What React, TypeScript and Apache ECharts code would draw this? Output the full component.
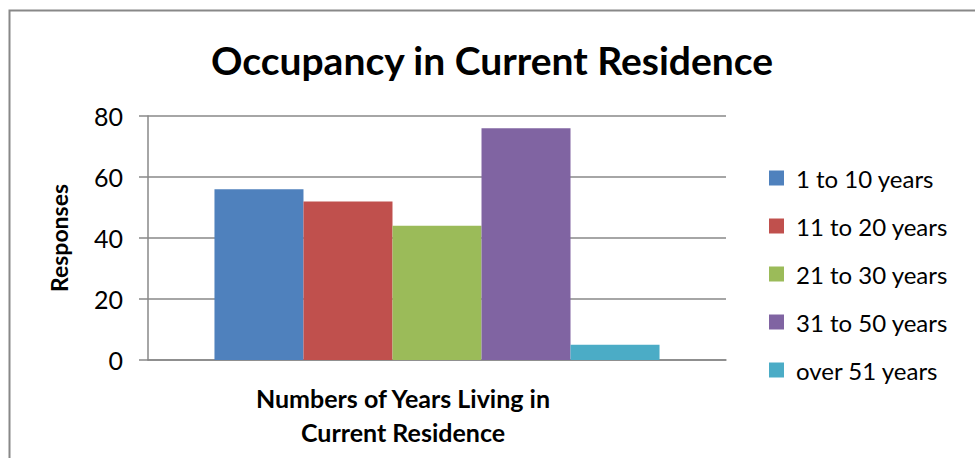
import React, { useEffect, useRef } from "react";
import * as echarts from "echarts";

const categories = ["Numbers of Years Living in Current Residence"];
const seriesNames = ["1 to 10 years", "11 to 20 years", "21 to 30 years", "31 to 50 years", "over 51 years"];
const seriesValues = [56, 52, 44, 76, 5];
const seriesColors = ["#4F81BD", "#C0504D", "#9BBB59", "#8064A2", "#4BACC6"];
const yTicks = { min: 0, max: 80, interval: 20 };

const FONT = "Lato, 'Liberation Sans', sans-serif";

export default function App() {
  const ref = useRef<HTMLDivElement>(null);
  useEffect(() => {
    if (!ref.current) return;
    const chart = echarts.init(ref.current, null, { renderer: "svg" });
    chart.setOption({
      animation: false,
      backgroundColor: "#fff",
      textStyle: { fontFamily: FONT },
      grid: { left: 148, right: 249, top: 116, bottom: 98 },
      legend: {
        orient: "vertical",
        left: 764,
        top: 161,
        itemWidth: 15,
        itemHeight: 15,
        itemGap: 24,
        icon: "rect",
        data: seriesNames,
        textStyle: { fontFamily: FONT, fontSize: 24, color: "#000", lineHeight: 24, padding: [0, 0, 0, 7] },
      },
      xAxis: {
        type: "category",
        data: categories,
        axisLine: { lineStyle: { color: "#888", width: 1.5 } },
        axisTick: { show: false },
        axisLabel: { show: false },
      },
      yAxis: {
        type: "value",
        min: yTicks.min,
        max: yTicks.max,
        interval: yTicks.interval,
        name: "Responses",
        nameLocation: "middle",
        nameGap: 78,
        nameTextStyle: { fontFamily: FONT, fontSize: 23, fontWeight: "bold", color: "#000" },
        axisLine: { show: true, lineStyle: { color: "#888", width: 1.5 } },
        axisTick: { show: true, length: 9, inside: false, lineStyle: { color: "#888", width: 1.5 } },
        axisLabel: { margin: 25, fontFamily: FONT, fontSize: 25, color: "#000" },
        splitLine: { lineStyle: { color: "#888", width: 1.5 } },
      },
      series: seriesNames.map((name, i) => ({
        name,
        type: "bar",
        data: [seriesValues[i]],
        itemStyle: { color: seriesColors[i] },
        barGap: "0%",
        barCategoryGap: "23%",
      })),
      graphic: [
        {
          type: "rect",
          shape: { x: 9.5, y: 10.5, width: 1000, height: 500 },
          style: { fill: "none", stroke: "#888", lineWidth: 2 },
          silent: true,
        },
        {
          type: "text",
          x: 492,
          y: 60,
          style: {
            text: "Occupancy in Current Residence",
            textAlign: "center",
            textVerticalAlign: "middle",
            fontFamily: FONT,
            fontWeight: "bold",
            fontSize: 39,
            fill: "#000",
          },
        },
        {
          type: "text",
          x: 403,
          y: 398,
          style: {
            text: "Numbers of Years Living in",
            textAlign: "center",
            textVerticalAlign: "middle",
            fontFamily: FONT,
            fontWeight: "bold",
            fontSize: 25,
            fill: "#000",
          },
        },
        {
          type: "text",
          x: 403,
          y: 432,
          style: {
            text: "Current Residence",
            textAlign: "center",
            textVerticalAlign: "middle",
            fontFamily: FONT,
            fontWeight: "bold",
            fontSize: 25,
            fill: "#000",
          },
        },
      ],
    });
    return () => chart.dispose();
  }, []);
  return <div ref={ref} style={{ position: "fixed", left: 0, top: 0, width: 975, height: 458 }} />;
}
